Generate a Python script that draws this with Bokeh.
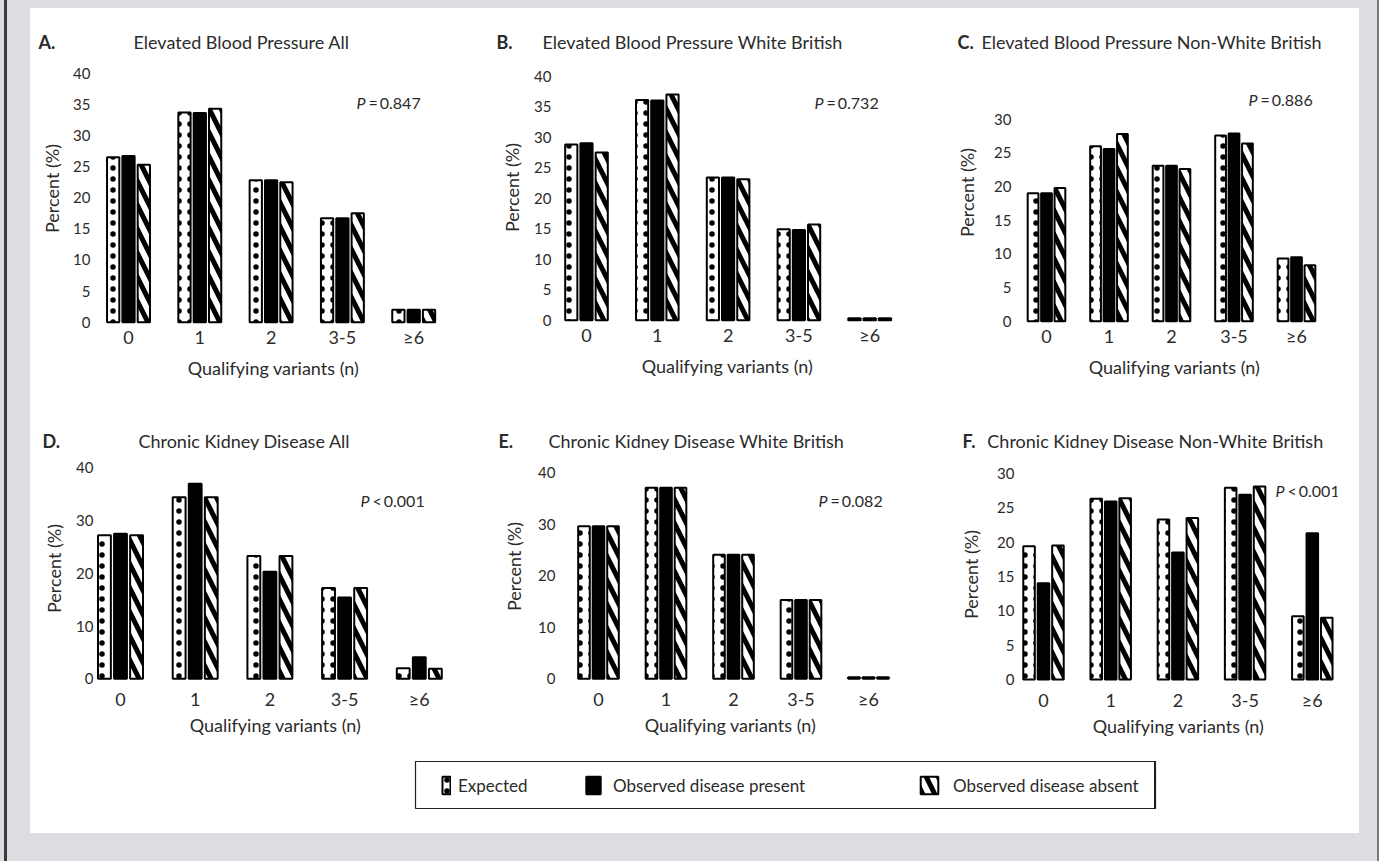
from bokeh.plotting import figure
from bokeh.models import (ColumnDataSource, FixedTicker, Label, Legend, LegendItem,
                          Spacer, GlobalInlineStyleSheet)
from bokeh.layouts import row, column
from bokeh.transform import dodge
from bokeh.embed import file_html
from bokeh.resources import INLINE

# ---------------- data ----------------
categories = ["0", "1", "2", "3-5", "\u22656"]

panel_letters = ["A.", "B.", "C.", "D.", "E.", "F."]
panel_titles = [
    "Elevated Blood Pressure All",
    "Elevated Blood Pressure White British",
    "Elevated Blood Pressure Non-White British",
    "Chronic Kidney Disease All",
    "Chronic Kidney Disease White British",
    "Chronic Kidney Disease Non-White British",
]
p_relations = ["=", "=", "=", "<", "=", "<"]
p_values = ["0.847", "0.732", "0.886", "0.001", "0.082", "0.001"]

a_expected = [26.5, 33.7, 22.8, 16.7, 2.0]
a_present = [26.7, 33.6, 22.8, 16.7, 2.0]
a_absent = [25.3, 34.3, 22.5, 17.5, 2.0]

b_expected = [28.8, 36.1, 23.4, 14.9, 0.3]
b_present = [29.0, 36.0, 23.4, 14.8, 0.3]
b_absent = [27.5, 37.0, 23.1, 15.7, 0.3]

c_expected = [19.0, 26.0, 23.1, 27.6, 9.3]
c_present = [19.0, 25.6, 23.1, 27.9, 9.5]
c_absent = [19.8, 27.8, 22.6, 26.4, 8.3]

d_expected = [27.2, 34.4, 23.3, 17.2, 2.0]
d_present = [27.5, 37.0, 20.3, 15.4, 4.1]
d_absent = [27.2, 34.4, 23.3, 17.2, 1.9]

e_expected = [29.6, 37.1, 24.1, 15.3, 0.3]
e_present = [29.6, 37.1, 24.1, 15.3, 0.3]
e_absent = [29.6, 37.1, 24.1, 15.3, 0.3]

f_expected = [19.4, 26.3, 23.3, 27.9, 9.2]
f_present = [14.0, 25.9, 18.5, 26.9, 21.3]
f_absent = [19.5, 26.4, 23.5, 28.1, 9.0]

y_ticks_a = [0, 5, 10, 15, 20, 25, 30, 35, 40]
y_ticks_b = [0, 5, 10, 15, 20, 25, 30, 35, 40]
y_ticks_c = [0, 5, 10, 15, 20, 25, 30]
y_ticks_d = [0, 10, 20, 30, 40]
y_ticks_e = [0, 10, 20, 30, 40]
y_ticks_f = [0, 5, 10, 15, 20, 25, 30]

series_labels = ["Expected", "Observed disease present", "Observed disease absent"]

panels_data = [
    (a_expected, a_present, a_absent, y_ticks_a),
    (b_expected, b_present, b_absent, y_ticks_b),
    (c_expected, c_present, c_absent, y_ticks_c),
    (d_expected, d_present, d_absent, y_ticks_d),
    (e_expected, e_present, e_absent, y_ticks_e),
    (f_expected, f_present, f_absent, y_ticks_f),
]

# ---------------- styling ----------------
FONT = "Lato"
TXT = "#2b2b2b"
BAR_W = 0.172
OFF = 0.215
PANEL_W = 1329

expected_style = dict(fill_color="white", line_color="black", line_width=2,
                      hatch_pattern="dot", hatch_color="black", hatch_scale=11, hatch_weight=2)
present_style = dict(fill_color="black", line_color="black", line_width=2)
absent_style = dict(fill_color="white", line_color="black", line_width=2,
                    hatch_pattern="left_diagonal_line", hatch_color="black",
                    hatch_scale=24, hatch_weight=5)
styles = [expected_style, present_style, absent_style]

# header rows: height, text y, letter x and title centre x (pixels in the header strip)
header_rows = [
    dict(h=44, ty=33, lx=[8, 466, 927], tx=[211, 662, 1121]),
    dict(h=57, ty=47, lx=[12, 468, 932], tx=[214, 666, 1125]),
]

# plot geometry (pixels inside each plot figure)
geoms = [
    dict(w=445, h=341, fl=66, fr=420, ft=0, fb=272, xc0=98, step=71.3, base=269.7, scale=6.225,
         px=326, py=50, top=True, ysd=6, yals=7),
    dict(w=445, h=341, fl=82, fr=422, ft=0, fb=270, xc0=111, step=70.8, base=267.7, scale=6.1,
         px=339, py=50, top=True, ysd=6, yals=8),
    dict(w=439, h=341, fl=97, fr=411, ft=9, fb=271, xc0=126, step=62.5, base=268.7, scale=6.73,
         px=328, py=47, top=True, ysd=6, yals=13),
    dict(w=445, h=300, fl=65, fr=425, ft=6, fb=230, xc0=90, step=74.7, base=228.3, scale=5.275,
         px=330, py=50, top=False, ysd=2, yals=8),
    dict(w=445, h=300, fl=86, fr=424, ft=2, fb=230, xc0=123, step=67.5, base=228.3, scale=5.15,
         px=343, py=50, top=False, ysd=6, yals=10),
    dict(w=439, h=300, fl=99, fr=417, ft=17, fb=231, xc0=123, step=67.2, base=229.0, scale=6.87,
         px=355, py=40, top=False, ysd=5, yals=12),
]


def make_header(k):
    g = header_rows[k]
    h = figure(width=PANEL_W, height=g["h"], x_range=(0, PANEL_W), y_range=(g["h"], 0),
               toolbar_location=None, output_backend="svg", title=None, frame_align=False,
               x_axis_type=None, y_axis_type=None,
               min_border_left=0, min_border_right=0, min_border_top=0, min_border_bottom=0,
               background_fill_color="white", border_fill_color="white",
               outline_line_color=None)
    h.grid.visible = False
    for j in range(3):
        i = 3 * k + j
        h.add_layout(Label(x=g["lx"][j], y=g["ty"], text=panel_letters[i],
                           text_font=FONT, text_font_size="18px", text_font_style="bold",
                           text_color=TXT, text_align="left", text_baseline="middle"))
        h.add_layout(Label(x=g["tx"][j], y=g["ty"], text=panel_titles[i],
                           text_font=FONT, text_font_size="18px", text_color=TXT,
                           text_align="center", text_baseline="middle"))
    return h


def make_panel(i):
    g = geoms[i]
    exp_v, pres_v, abs_v, yticks = panels_data[i]
    xs = lambda px: (px - g["xc0"]) / g["step"]
    ys = lambda py: (g["base"] - py) / g["scale"]
    p = figure(width=g["w"], height=g["h"],
               x_range=(xs(g["fl"]), xs(g["fr"])),
               y_range=(ys(g["fb"]), ys(g["ft"])),
               toolbar_location=None, output_backend="svg", title=None, frame_align=False,
               min_border_left=g["fl"], min_border_right=g["w"] - g["fr"],
               min_border_top=g["ft"], min_border_bottom=g["h"] - g["fb"],
               background_fill_color="white", border_fill_color="white",
               outline_line_color=None)
    p.grid.visible = False
    src = ColumnDataSource(dict(x=list(range(len(categories))), expected=exp_v,
                                present=pres_v, absent=abs_v))
    for off, key, st in zip([-OFF, 0.0, OFF], ["expected", "present", "absent"], styles):
        p.vbar(x=dodge("x", off), top=key, bottom=0, width=BAR_W, source=src, **st)

    for ax in (p.xaxis[0], p.yaxis[0]):
        ax.axis_line_color = None
        ax.major_tick_line_color = None
        ax.minor_tick_line_color = None
        ax.major_tick_out = 0
        ax.major_tick_in = 0
        ax.minor_tick_out = 0
        ax.minor_tick_in = 0
        ax.major_label_text_font = FONT
        ax.major_label_text_color = TXT
        ax.axis_label_text_font = FONT
        ax.axis_label_text_font_size = "18px"
        ax.axis_label_text_font_style = "normal"
        ax.axis_label_text_color = TXT

    # x axis
    xa = p.xaxis[0]
    xa.ticker = FixedTicker(ticks=list(range(len(categories))))
    xa.major_label_overrides = {k: c for k, c in enumerate(categories)}
    xa.major_label_standoff = 1 if g["top"] else 7
    xa.major_label_text_font_size = "18px"
    xa.axis_label = "Qualifying variants (n)"
    xa.axis_label_standoff = 6 if g["top"] else 1

    # y axis
    ya = p.yaxis[0]
    ya.ticker = FixedTicker(ticks=yticks)
    ya.major_label_standoff = g["ysd"]
    ya.major_label_text_font_size = "15px"
    ya.axis_label = "Percent (%)"
    ya.axis_label_standoff = g["yals"]

    # P value
    p.add_layout(Label(x=xs(g["px"]), y=ys(g["py"]), text="P",
                       text_font=FONT, text_font_size="16px", text_font_style="italic",
                       text_color=TXT, text_align="left", text_baseline="middle"))
    p.add_layout(Label(x=xs(g["px"]), y=ys(g["py"]), x_offset=10,
                       text="\u2009" + p_relations[i] + "\u2009" + p_values[i],
                       text_font=FONT, text_font_size="16px",
                       text_color=TXT, text_align="left", text_baseline="middle"))
    return p


plots = [make_panel(i) for i in range(6)]

# ---------------- legend ----------------
lf = figure(width=PANEL_W, height=83, x_range=(0, 1), y_range=(0, 1),
            toolbar_location=None, output_backend="svg", title=None, frame_align=False,
            x_axis_type=None, y_axis_type=None,
            min_border_left=385, min_border_right=204, min_border_top=11, min_border_bottom=25,
            background_fill_color="white", border_fill_color="white",
            outline_line_color="#222222", outline_line_width=1.2)
lf.grid.visible = False
# a hidden placeholder point (outside the visible range) so that legend swatches draw
hidden = ColumnDataSource(dict(x=[10], top=[1]))
leg_pos = [(26, 10, 7), (169, 18, 11), (503, 22, 13)]
for lab, st, (lx, gw, sd) in zip(series_labels, styles, leg_pos):
    r = lf.vbar(x="x", top="top", width=0.1, source=hidden, **st)
    lg = Legend(items=[LegendItem(label=lab, renderers=[r])], location=(lx, 12),
                orientation="horizontal", glyph_width=gw, glyph_height=22,
                label_standoff=sd, padding=0, margin=0, spacing=0,
                border_line_color=None, background_fill_alpha=0,
                label_text_font=FONT, label_text_font_size="17px",
                label_text_color=TXT, label_height=22)
    lf.add_layout(lg, "center")

css = GlobalInlineStyleSheet(css="""
html, body { background: #dcdde0; }
body::before { content: ""; position: fixed; left: 4px; top: 0; bottom: 0; width: 3px; background: #3a3a3a; }
body::after { content: ""; position: fixed; right: 0; top: 0; bottom: 0; width: 2px; background: #7a7a7a; }
""")

panel = column(row(make_header(0)),
               row(plots[0], plots[1], plots[2]),
               row(make_header(1)),
               row(plots[3], plots[4], plots[5]),
               row(lf),
               styles={"background-color": "white"})
layout = column(Spacer(width=10, height=8),
                row(Spacer(width=30, height=825), panel),
                stylesheets=[css])

open("out.html", "w").write(file_html(layout, INLINE))
